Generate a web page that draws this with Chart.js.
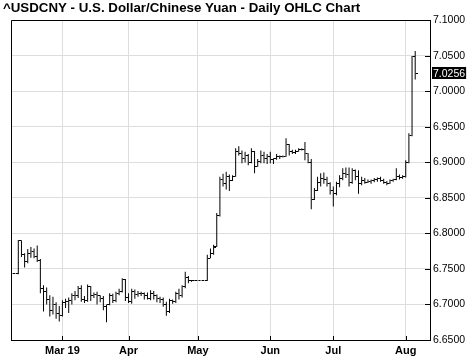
<!DOCTYPE html>
<html><head><meta charset="utf-8">
<script src="https://cdn.jsdelivr.net/npm/chart.js@4"></script>
<style>html,body{margin:0;padding:0;background:#fff}canvas{display:block}</style>
</head><body>
<canvas id="c" width="474" height="361"></canvas>
<script>
const chartTitle = '^USDCNY - U.S. Dollar/Chinese Yuan - Daily OHLC Chart';
const dates = [
'2019-02-07','2019-02-08','2019-02-11','2019-02-12','2019-02-13','2019-02-14','2019-02-15','2019-02-18','2019-02-19','2019-02-20',
'2019-02-21','2019-02-22','2019-02-25','2019-02-26','2019-02-27','2019-02-28','2019-03-01','2019-03-04','2019-03-05','2019-03-06',
'2019-03-07','2019-03-08','2019-03-11','2019-03-12','2019-03-13','2019-03-14','2019-03-15','2019-03-18','2019-03-19','2019-03-20',
'2019-03-21','2019-03-22','2019-03-25','2019-03-26','2019-03-27','2019-03-28','2019-03-29','2019-04-01','2019-04-02','2019-04-03',
'2019-04-04','2019-04-05','2019-04-08','2019-04-09','2019-04-10','2019-04-11','2019-04-12','2019-04-15','2019-04-16','2019-04-17',
'2019-04-18','2019-04-19','2019-04-22','2019-04-23','2019-04-24','2019-04-25','2019-04-26','2019-04-29','2019-04-30','2019-05-01',
'2019-05-02','2019-05-03','2019-05-06','2019-05-07','2019-05-08','2019-05-09','2019-05-10','2019-05-13','2019-05-14','2019-05-15',
'2019-05-16','2019-05-17','2019-05-20','2019-05-21','2019-05-22','2019-05-23','2019-05-24','2019-05-27','2019-05-28','2019-05-29',
'2019-05-30','2019-05-31','2019-06-03','2019-06-04','2019-06-05','2019-06-06','2019-06-07','2019-06-10','2019-06-11','2019-06-12',
'2019-06-13','2019-06-14','2019-06-17','2019-06-18','2019-06-19','2019-06-20','2019-06-21','2019-06-24','2019-06-25','2019-06-26',
'2019-06-27','2019-06-28','2019-07-01','2019-07-02','2019-07-03','2019-07-04','2019-07-05','2019-07-08','2019-07-09','2019-07-10',
'2019-07-11','2019-07-12','2019-07-15','2019-07-16','2019-07-17','2019-07-18','2019-07-19','2019-07-22','2019-07-23','2019-07-24',
'2019-07-25','2019-07-26','2019-07-29','2019-07-30','2019-07-31','2019-08-01','2019-08-02','2019-08-05','2019-08-06'];
const opens = [
6.743,6.743,6.743,6.7895,6.770,6.761,6.772,6.775,6.768,6.762,
6.722,6.718,6.707,6.692,6.700,6.688,6.684,6.703,6.704,6.705,
6.712,6.713,6.722,6.707,6.706,6.725,6.713,6.714,6.712,6.709,
6.697,6.700,6.713,6.706,6.716,6.719,6.735,6.710,6.704,6.719,
6.714,6.716,6.715,6.712,6.709,6.716,6.712,6.709,6.707,6.700,
6.690,6.705,6.704,6.716,6.712,6.725,6.738,6.7335,6.7335,6.7335,
6.7335,6.7335,6.7335,6.765,6.772,6.782,6.825,6.876,6.870,6.880,
6.875,6.880,6.915,6.912,6.905,6.910,6.900,6.915,6.895,6.902,
6.910,6.905,6.908,6.904,6.905,6.908,6.908,6.909,6.925,6.915,
6.914,6.916,6.918,6.918,6.912,6.900,6.848,6.860,6.872,6.878,
6.876,6.870,6.860,6.856,6.870,6.878,6.885,6.883,6.872,6.888,
6.880,6.870,6.874,6.872,6.873,6.874,6.876,6.878,6.875,6.872,
6.871,6.875,6.876,6.880,6.879,6.880,6.900,6.938,7.049];
const highs = [
6.743,6.743,6.791,6.7905,6.772,6.778,6.781,6.779,6.783,6.764,
6.727,6.724,6.713,6.711,6.703,6.698,6.706,6.708,6.710,6.716,
6.719,6.726,6.727,6.712,6.728,6.726,6.717,6.718,6.713,6.712,
6.700,6.716,6.715,6.718,6.722,6.737,6.736,6.716,6.722,6.721,
6.719,6.718,6.717,6.717,6.720,6.719,6.714,6.711,6.710,6.704,
6.708,6.707,6.718,6.722,6.727,6.746,6.740,6.7345,6.734,6.7335,
6.7335,6.7335,6.770,6.779,6.784,6.829,6.880,6.884,6.887,6.883,
6.882,6.920,6.923,6.917,6.915,6.912,6.920,6.916,6.905,6.917,
6.915,6.912,6.915,6.906,6.912,6.910,6.910,6.934,6.926,6.918,
6.918,6.920,6.920,6.929,6.913,6.905,6.864,6.880,6.885,6.886,
6.880,6.872,6.866,6.873,6.882,6.892,6.893,6.893,6.892,6.890,
6.889,6.880,6.878,6.876,6.876,6.878,6.879,6.880,6.877,6.874,
6.876,6.877,6.892,6.883,6.882,6.903,6.941,7.050,7.057];
const lows = [
6.743,6.743,6.7425,6.767,6.752,6.758,6.766,6.765,6.760,6.716,
6.690,6.700,6.683,6.686,6.680,6.676,6.683,6.695,6.688,6.700,
6.706,6.709,6.704,6.702,6.704,6.705,6.709,6.700,6.703,6.692,
6.675,6.699,6.702,6.703,6.713,6.717,6.705,6.702,6.701,6.708,
6.711,6.712,6.707,6.707,6.706,6.707,6.703,6.702,6.697,6.684,
6.688,6.701,6.702,6.707,6.710,6.723,6.730,6.732,6.733,6.7335,
6.7335,6.7335,6.733,6.765,6.770,6.781,6.824,6.866,6.862,6.860,
6.874,6.880,6.910,6.899,6.900,6.896,6.899,6.885,6.894,6.899,
6.899,6.898,6.899,6.898,6.904,6.905,6.907,6.908,6.910,6.912,
6.912,6.915,6.917,6.903,6.899,6.834,6.847,6.860,6.866,6.870,
6.866,6.855,6.838,6.854,6.865,6.875,6.878,6.866,6.870,6.875,
6.856,6.868,6.870,6.871,6.870,6.872,6.873,6.873,6.870,6.868,
6.870,6.873,6.875,6.876,6.877,6.879,6.899,6.937,7.017];
const closes = [
6.743,6.743,6.7895,6.770,6.761,6.772,6.775,6.768,6.762,6.722,
6.718,6.707,6.692,6.700,6.688,6.684,6.703,6.704,6.705,6.712,
6.713,6.722,6.707,6.706,6.725,6.713,6.714,6.712,6.709,6.697,
6.700,6.713,6.706,6.716,6.719,6.735,6.710,6.704,6.719,6.714,
6.716,6.715,6.712,6.709,6.716,6.712,6.709,6.707,6.700,6.690,
6.705,6.704,6.716,6.712,6.725,6.738,6.7335,6.7335,6.7335,6.7335,
6.7335,6.7335,6.765,6.772,6.780,6.825,6.876,6.870,6.880,6.875,
6.880,6.915,6.912,6.905,6.910,6.900,6.915,6.895,6.902,6.910,
6.905,6.908,6.904,6.905,6.908,6.908,6.909,6.925,6.915,6.914,
6.916,6.918,6.918,6.912,6.900,6.848,6.860,6.872,6.878,6.876,
6.870,6.860,6.856,6.870,6.878,6.885,6.883,6.872,6.888,6.880,
6.870,6.874,6.872,6.873,6.874,6.876,6.878,6.875,6.872,6.871,
6.875,6.876,6.880,6.879,6.880,6.900,6.938,7.049,7.0256];
const tickDates = ['2019-03-01','2019-04-01','2019-05-01','2019-06-03','2019-07-01','2019-08-01'];
const tickLabels = ['Mar 19','Apr','May','Jun','Jul','Aug'];
const yTicks = [6.65,6.70,6.75,6.80,6.85,6.90,6.95,7.00,7.05,7.10];

const FONT = '"Liberation Sans", Arial, sans-serif';
Chart.defaults.font.family = FONT;
Chart.defaults.color = '#000';

const tickIdx = tickDates.map(d => dates.indexOf(d));
function tickImg(left) {
  const c = document.createElement('canvas');
  c.width = 5; c.height = 1;
  const g = c.getContext('2d');
  g.fillStyle = '#000';
  g.fillRect(left ? 0 : 3, 0, 2, 1);
  return c;
}
const openImg = tickImg(true), closeImg = tickImg(false);

const framePlugin = {
  id: 'frame',
  afterDraw(chart) {
    const {ctx, chartArea: a, scales} = chart;
    ctx.save();
    ctx.strokeStyle = '#000';
    ctx.lineWidth = 1;
    ctx.beginPath();
    const L = Math.round(a.left) + 0.5, T = Math.round(a.top) + 0.5;
    ctx.moveTo(L, a.bottom); ctx.lineTo(L, T); ctx.lineTo(a.right, T);
    scales.y.ticks.forEach(t => {
      const y = Math.round(scales.y.getPixelForValue(t.value)) + 0.5;
      ctx.moveTo(a.right - 5, y); ctx.lineTo(a.right, y);
    });
    scales.x.ticks.forEach(t => {
      const x = Math.round(scales.x.getPixelForValue(t.value)) + 0.5;
      ctx.moveTo(x, a.bottom - 4); ctx.lineTo(x, a.bottom);
    });
    ctx.stroke();
    const last = closes[closes.length - 1];
    const y = scales.y.getPixelForValue(last);
    const txt = last.toFixed(4);
    ctx.font = '10.5px ' + FONT;
    const w = ctx.measureText(txt).width;
    ctx.fillStyle = '#000';
    ctx.fillRect(a.right + 2, Math.round(y) - 6, w + 2, 12);
    ctx.fillStyle = '#fff';
    ctx.textBaseline = 'middle';
    ctx.textAlign = 'left';
    ctx.fillText(txt, a.right + 3, y + 0.5);
    ctx.restore();
  }
};

new Chart(document.getElementById('c'), {
  type: 'bar',
  data: {
    datasets: [
      {
        type: 'bar',
        data: dates.map((d, i) => ({x: i, y: [lows[i], highs[i]]})),
        backgroundColor: '#000',
        barThickness: 1,
        inflateAmount: 0,
        borderWidth: 0,
        xAxisID: 'x', yAxisID: 'y'
      },
      {
        type: 'scatter',
        data: dates.map((d, i) => ({x: i, y: opens[i]})),
        pointStyle: openImg, pointRadius: 2, pointHoverRadius: 2,
        xAxisID: 'x', yAxisID: 'y'
      },
      {
        type: 'scatter',
        data: dates.map((d, i) => ({x: i, y: closes[i]})),
        pointStyle: closeImg, pointRadius: 2, pointHoverRadius: 2,
        xAxisID: 'x', yAxisID: 'y'
      }
    ]
  },
  options: {
    responsive: false,
    animation: false,
    devicePixelRatio: 1,
    layout: {padding: {left: 3, right: 0, top: 0, bottom: 0}},
    plugins: {
      legend: {display: false},
      tooltip: {enabled: false},
      title: {
        display: true, text: chartTitle, align: 'start', color: '#000',
        font: {family: FONT, size: 13.3, weight: 'bold'},
        padding: {top: 0.5, bottom: 4}
      }
    },
    scales: {
      x: {
        type: 'linear',
        offset: false,
        min: -0.32, max: 132.7,
        afterBuildTicks: s => { s.ticks = tickIdx.map(v => ({value: v})); },
        afterFit: s => { s.height = 21; },
        ticks: {
          autoSkip: false, maxRotation: 0, padding: 4,
          font: {family: FONT, size: 11, weight: 'bold'}, color: '#000',
          callback: (v, i) => tickLabels[i]
        },
        grid: {color: '#dddddd', drawTicks: false, offset: false},
        border: {display: true, color: '#000'}
      },
      y: {
        type: 'linear', position: 'right',
        min: 6.65, max: 7.10,
        afterBuildTicks: s => { s.ticks = yTicks.map(v => ({value: v})); },
        afterFit: s => { s.width = 44; },
        ticks: {
          padding: 3,
          font: {family: FONT, size: 10.5}, color: '#000',
          callback: v => Number(v).toFixed(4)
        },
        grid: {color: '#dddddd', drawTicks: false},
        border: {display: true, color: '#000'}
      },
      yl: {
        type: 'linear', position: 'left', display: true,
        afterFit: s => { s.width = 8; },
        ticks: {display: false},
        grid: {display: false, drawTicks: false},
        border: {display: false}
      }
    }
  },
  plugins: [framePlugin]
});
</script>
</body></html>
